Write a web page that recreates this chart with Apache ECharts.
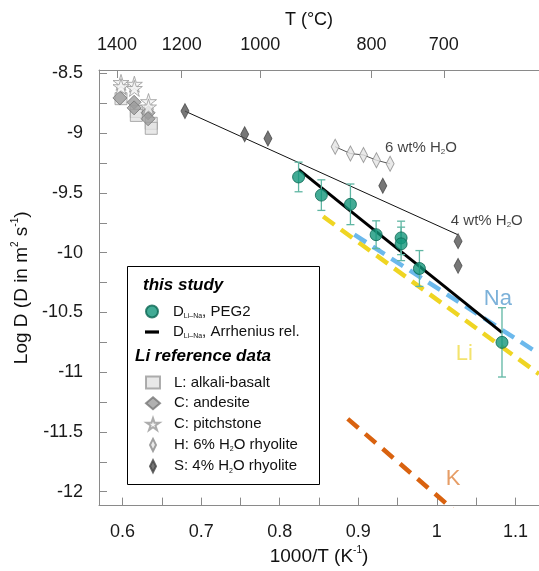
<!DOCTYPE html>
<html><head><meta charset="utf-8">
<script src="https://cdn.jsdelivr.net/npm/echarts@6/dist/echarts.min.js"></script>
<style>html,body{margin:0;padding:0;background:#fff}#c{width:539px;height:571px}</style>
</head><body><div id="c"></div>
<script>
const FONT = "'Liberation Sans', Arial, sans-serif";

// ---------- data (1000/T in K^-1, log D) ----------
const basaltL     = [[0.598,-8.711],[0.6175,-8.818],[0.6175,-8.851],[0.6365,-8.917],[0.6365,-8.959]];
const andesiteC   = [[0.5966,-8.705],[0.6147,-8.741],[0.6147,-8.788],[0.6325,-8.829],[0.6325,-8.879]];
const pitchstoneC = [[0.598,-8.575],[0.598,-8.61],[0.615,-8.59],[0.615,-8.625],[0.633,-8.735],[0.633,-8.78]];
const rhyoliteH6  = [[0.8706,-9.113],[0.890,-9.170],[0.9066,-9.182],[0.9231,-9.226],[0.9405,-9.256]];
const rhyoliteS4  = [[0.6794,-8.815],[0.7554,-9.008],[0.785,-9.044],[0.9312,-9.44],[1.027,-9.903],[1.027,-10.11]];
const trend4wt    = [[0.6794,-8.815],[1.0266,-9.849]];
const pegX   = [0.824, 0.853, 0.890, 0.9227, 0.9545, 0.9545, 0.9778, 1.0829];
const pegY   = [-9.366, -9.518, -9.595, -9.849, -9.876, -9.926, -10.132, -10.75];
const pegErr = [0.124, 0.128, 0.17, 0.116, 0.14, 0.14, 0.15, 0.29];
const arrhenius = [[0.824,-9.303],[1.083,-10.669]];
const liLine = [[0.8553,-9.697],[1.13,-11.015]];
const naLine = [[0.895,-9.849],[1.13,-10.845]];
const kLine  = [[0.8866,-11.39],[1.02,-12.144]];

const xTickVals  = [0.6,0.65,0.7,0.75,0.8,0.85,0.9,0.95,1.0,1.05,1.1];
const xLabelVals = [0.6,0.7,0.8,0.9,1.0,1.1];
const yTickVals  = [-12,-11.75,-11.5,-11.25,-11,-10.75,-10.5,-10.25,-10,-9.75,-9.5,-9.25,-9,-8.75,-8.5];
const yLabelVals = [-12,-11.5,-11,-10.5,-10,-9.5,-9,-8.5];
const topTLabels = [1400, 1200, 1000, 800, 700];
const topTPos    = [0.5928, 0.6753, 0.7751, 0.9168, 1.0089];

const annotations = [
  {name:'6wt', x:0.9346, y:-9.124, text:'{a|6 wt% H}{s|2}{a|O}'},
  {name:'4wt', x:1.0184, y:-9.736, text:'{a|4 wt% H}{s|2}{a|O}'},
  {name:'Na',  x:1.0604, y:-10.389, text:'{na|Na}'},
  {name:'Li',  x:1.0248, y:-10.851, text:'{li|Li}'},
  {name:'K',   x:1.012,  y:-11.90,  text:'{k|K}'}
];

// ---------- styling helpers ----------
const STAR = 'path://M50,0L61.8,35.4L100,35.4L69.1,57.3L80.9,92.7L50,70.8L19.1,92.7L30.9,57.3L0,35.4L38.2,35.4Z';
const NDIAM = 'path://M4,0L8,8L4,16L0,8Z';
const DASHICON = 'path://M0,0L14,0L14,3.2L0,3.2Z';
const legendNames = {
  'PEG2': '{sp| }{t|D}{sub|Li–Na}{t|, PEG2}',
  'Arrhenius': '{sp| }{t|D}{sub|Li–Na}{t|, Arrhenius rel.}',
  'L: alkali-basalt': '{sp| }{t|L: alkali-basalt}',
  'C: andesite': '{sp| }{t|C: andesite}',
  'C: pitchstone': '{sp| }{t|C: pitchstone}',
  'H: 6% H2O rhyolite': '{sp| }{t|H: 6% H}{sub|2}{t|O rhyolite}',
  'S: 4% H2O rhyolite': '{sp| }{t|S: 4% H}{sub|2}{t|O rhyolite}'
};
const legendRich = {
  sp: {width: 9},
  t: {fontSize: 15, fontFamily: FONT, color: '#111', lineHeight: 16},
  sub: {fontSize: 7, fontFamily: FONT, color: '#111', lineHeight: 7, verticalAlign: 'bottom'}
};
const legendCommon = {
  orient: 'vertical', left: 140, itemWidth: 14, itemHeight: 12, itemGap: 5,
  selectedMode: false, z: 10,
  formatter: n => legendNames[n] || n,
  textStyle: {fontSize: 15, fontFamily: FONT, color: '#111', rich: legendRich}
};

const errData = pegX.map((x, i) => [x, pegY[i], pegY[i] - pegErr[i], pegY[i] + pegErr[i]]);
const pegData = pegX.map((x, i) => [x, pegY[i]]);

const axisGray = '#8a8a8a';
const option = {
  animation: false,
  backgroundColor: '#fff',
  grid: {left: 99, right: 0, top: 70, bottom: 60},
  xAxis: [{
    type: 'value', min: 0.57, max: 1.13, position: 'bottom',
    name: '{t|1000/T (K}{sup|-1}{t|)}', nameLocation: 'middle', nameGap: 35,
    nameTextStyle: {fontFamily: FONT, color: '#111', rich: {
      t: {fontSize: 19, fontFamily: FONT, color: '#111', lineHeight: 22},
      sup: {fontSize: 10, fontFamily: FONT, color: '#111', lineHeight: 10, verticalAlign: 'top'}}},
    axisLine: {lineStyle: {color: axisGray, width: 1}},
    axisTick: {inside: true, length: 8, lineStyle: {color: axisGray}, customValues: xTickVals},
    axisLabel: {customValues: xLabelVals, fontSize: 18, fontFamily: FONT, color: '#1a1a1a', margin: 17,
      formatter: v => String(Math.round(v * 10) / 10)},
    splitLine: {show: false}
  }, {
    type: 'value', min: 0.57, max: 1.13, position: 'top',
    name: 'T (°C)', nameLocation: 'middle', nameGap: 41,
    nameTextStyle: {fontSize: 18, fontFamily: FONT, color: '#111', padding: [0, 20, 0, 0]},
    axisLine: {lineStyle: {color: axisGray, width: 1}},
    axisTick: {inside: true, length: 8, lineStyle: {color: axisGray}, customValues: topTPos},
    axisLabel: {customValues: topTPos, fontSize: 18, fontFamily: FONT, color: '#1a1a1a', margin: 16,
      formatter: v => {
        let best = 0;
        topTPos.forEach((p, i) => { if (Math.abs(p - v) < Math.abs(topTPos[best] - v)) best = i; });
        return String(topTLabels[best]);
      }},
    splitLine: {show: false}
  }],
  yAxis: {
    type: 'value', min: -12.116, max: -8.471,
    name: '{t|Log D (D in m}{sup|2}{t| s}{sup|-1}{t|)}', nameLocation: 'middle', nameGap: 60,
    nameTextStyle: {fontFamily: FONT, color: '#111', rich: {
      t: {fontSize: 19, fontFamily: FONT, color: '#111', lineHeight: 22},
      sup: {fontSize: 10, fontFamily: FONT, color: '#111', lineHeight: 10, verticalAlign: 'top'}}},
    axisLine: {show: true, lineStyle: {color: axisGray, width: 1}},
    axisTick: {show: true, inside: true, length: 8, lineStyle: {color: axisGray}, customValues: yTickVals},
    axisLabel: {customValues: yLabelVals, fontSize: 18, fontFamily: FONT, color: '#1a1a1a', margin: 16,
      formatter: v => String(Math.round(v * 10) / 10)},
    splitLine: {show: false}
  },
  legend: [
    Object.assign({}, legendCommon, {top: 299,
      data: ['PEG2', {name: 'Arrhenius', icon: DASHICON}]}),
    Object.assign({}, legendCommon, {top: 370, itemGap: 5.8,
      data: ['L: alkali-basalt', 'C: andesite', 'C: pitchstone', 'H: 6% H2O rhyolite', 'S: 4% H2O rhyolite']})
  ],
  graphic: [
    {type: 'rect', left: 127, top: 266, z: 5, shape: {width: 192, height: 218},
     style: {fill: '#fff', stroke: '#000', lineWidth: 1}},
    {type: 'text', left: 143, top: 277, z: 6,
     style: {text: 'this study', font: 'italic bold 17px ' + FONT, fill: '#000'}},
    {type: 'text', left: 135, top: 348, z: 6,
     style: {text: 'Li reference data', font: 'italic bold 17px ' + FONT, fill: '#000'}}
  ],
  series: [
    {type: 'line', name: 'Li', data: liLine, symbol: 'none', z: 2, silent: true,
     lineStyle: {color: '#efd523', width: 4.5, type: [14, 8]}},
    {type: 'line', name: 'Na', data: naLine, symbol: 'none', z: 2, silent: true,
     lineStyle: {color: '#6cb9ec', width: 4.5, type: [14, 8]}},
    {type: 'line', name: 'K', data: kLine, symbol: 'none', z: 2, silent: true,
     lineStyle: {color: '#d9620f', width: 4.5, type: [14, 9]}},
    {type: 'line', name: '4wt', data: trend4wt, symbol: 'none', z: 2, silent: true,
     lineStyle: {color: '#111', width: 1}},
    {type: 'line', name: 'Hline', data: rhyoliteH6, symbol: 'none', z: 2, silent: true,
     lineStyle: {color: '#555', width: 1}},
    {type: 'scatter', name: 'L: alkali-basalt', data: basaltL, symbol: 'rect', symbolSize: 12, z: 3,
     itemStyle: {color: '#e2e2e2', borderColor: '#9a9a9a', borderWidth: 1}},
    {type: 'scatter', name: 'C: andesite', data: andesiteC, symbol: 'diamond', symbolSize: 14, z: 4,
     itemStyle: {color: '#9c9c9c', borderColor: '#777', borderWidth: 1}},
    {type: 'scatter', name: 'C: pitchstone', data: pitchstoneC, symbol: STAR, symbolSize: 16, z: 5,
     itemStyle: {color: '#f3f3f3', borderColor: '#999', borderWidth: 1}},
    {type: 'scatter', name: 'H: 6% H2O rhyolite', data: rhyoliteH6, symbol: NDIAM, symbolSize: [8, 15], z: 4,
     itemStyle: {color: '#e4e4e4', borderColor: '#8a8a8a', borderWidth: 1}},
    {type: 'scatter', name: 'S: 4% H2O rhyolite', data: rhyoliteS4, symbol: NDIAM, symbolSize: [8, 15], z: 4,
     itemStyle: {color: '#555', borderColor: '#444', borderWidth: 1}},
    {type: 'line', name: 'Arrhenius', data: arrhenius, symbol: 'none', z: 6,
     lineStyle: {color: '#000', width: 3}, itemStyle: {color: '#000'}},
    {type: 'custom', name: 'err', data: errData, z: 7, silent: true,
     renderItem: (params, api) => {
       const x = api.value(0);
       const p1 = api.coord([x, api.value(3)]);
       const p2 = api.coord([x, api.value(2)]);
       const cw = 4;
       const st = {stroke: '#5fb6a3', lineWidth: 1.3};
       return {type: 'group', children: [
         {type: 'line', shape: {x1: p1[0], y1: p1[1], x2: p2[0], y2: p2[1]}, style: st},
         {type: 'line', shape: {x1: p1[0] - cw, y1: p1[1], x2: p1[0] + cw, y2: p1[1]}, style: st},
         {type: 'line', shape: {x1: p2[0] - cw, y1: p2[1], x2: p2[0] + cw, y2: p2[1]}, style: st}
       ]};
     }},
    {type: 'scatter', name: 'PEG2', data: pegData, symbol: 'circle', symbolSize: 12, z: 8,
     itemStyle: {color: '#13967b', borderColor: '#0b6653', borderWidth: 1}},
    {type: 'scatter', name: 'annot', silent: true, z: 9, symbolSize: 1,
     itemStyle: {color: 'rgba(0,0,0,0)'},
     data: annotations.map(a => ({value: [a.x, a.y], name: a.name, label: {formatter: a.text}})),
     label: {show: true, position: [0, 0], align: 'left', verticalAlign: 'middle',
       rich: {
         a: {fontSize: 15, fontFamily: FONT, color: '#111', lineHeight: 17},
         s: {fontSize: 8, fontFamily: FONT, color: '#111', lineHeight: 8, verticalAlign: 'bottom'},
         na: {fontSize: 22, fontFamily: FONT, color: '#5b9dd0'},
         li: {fontSize: 22, fontFamily: FONT, color: '#f0dc4a'},
         k: {fontSize: 22, fontFamily: FONT, color: '#e08440'}
       }}}
  ]
};
const chart = echarts.init(document.getElementById('c'), null, {renderer: 'canvas'});
chart.setOption(option);
</script>
</body></html>
